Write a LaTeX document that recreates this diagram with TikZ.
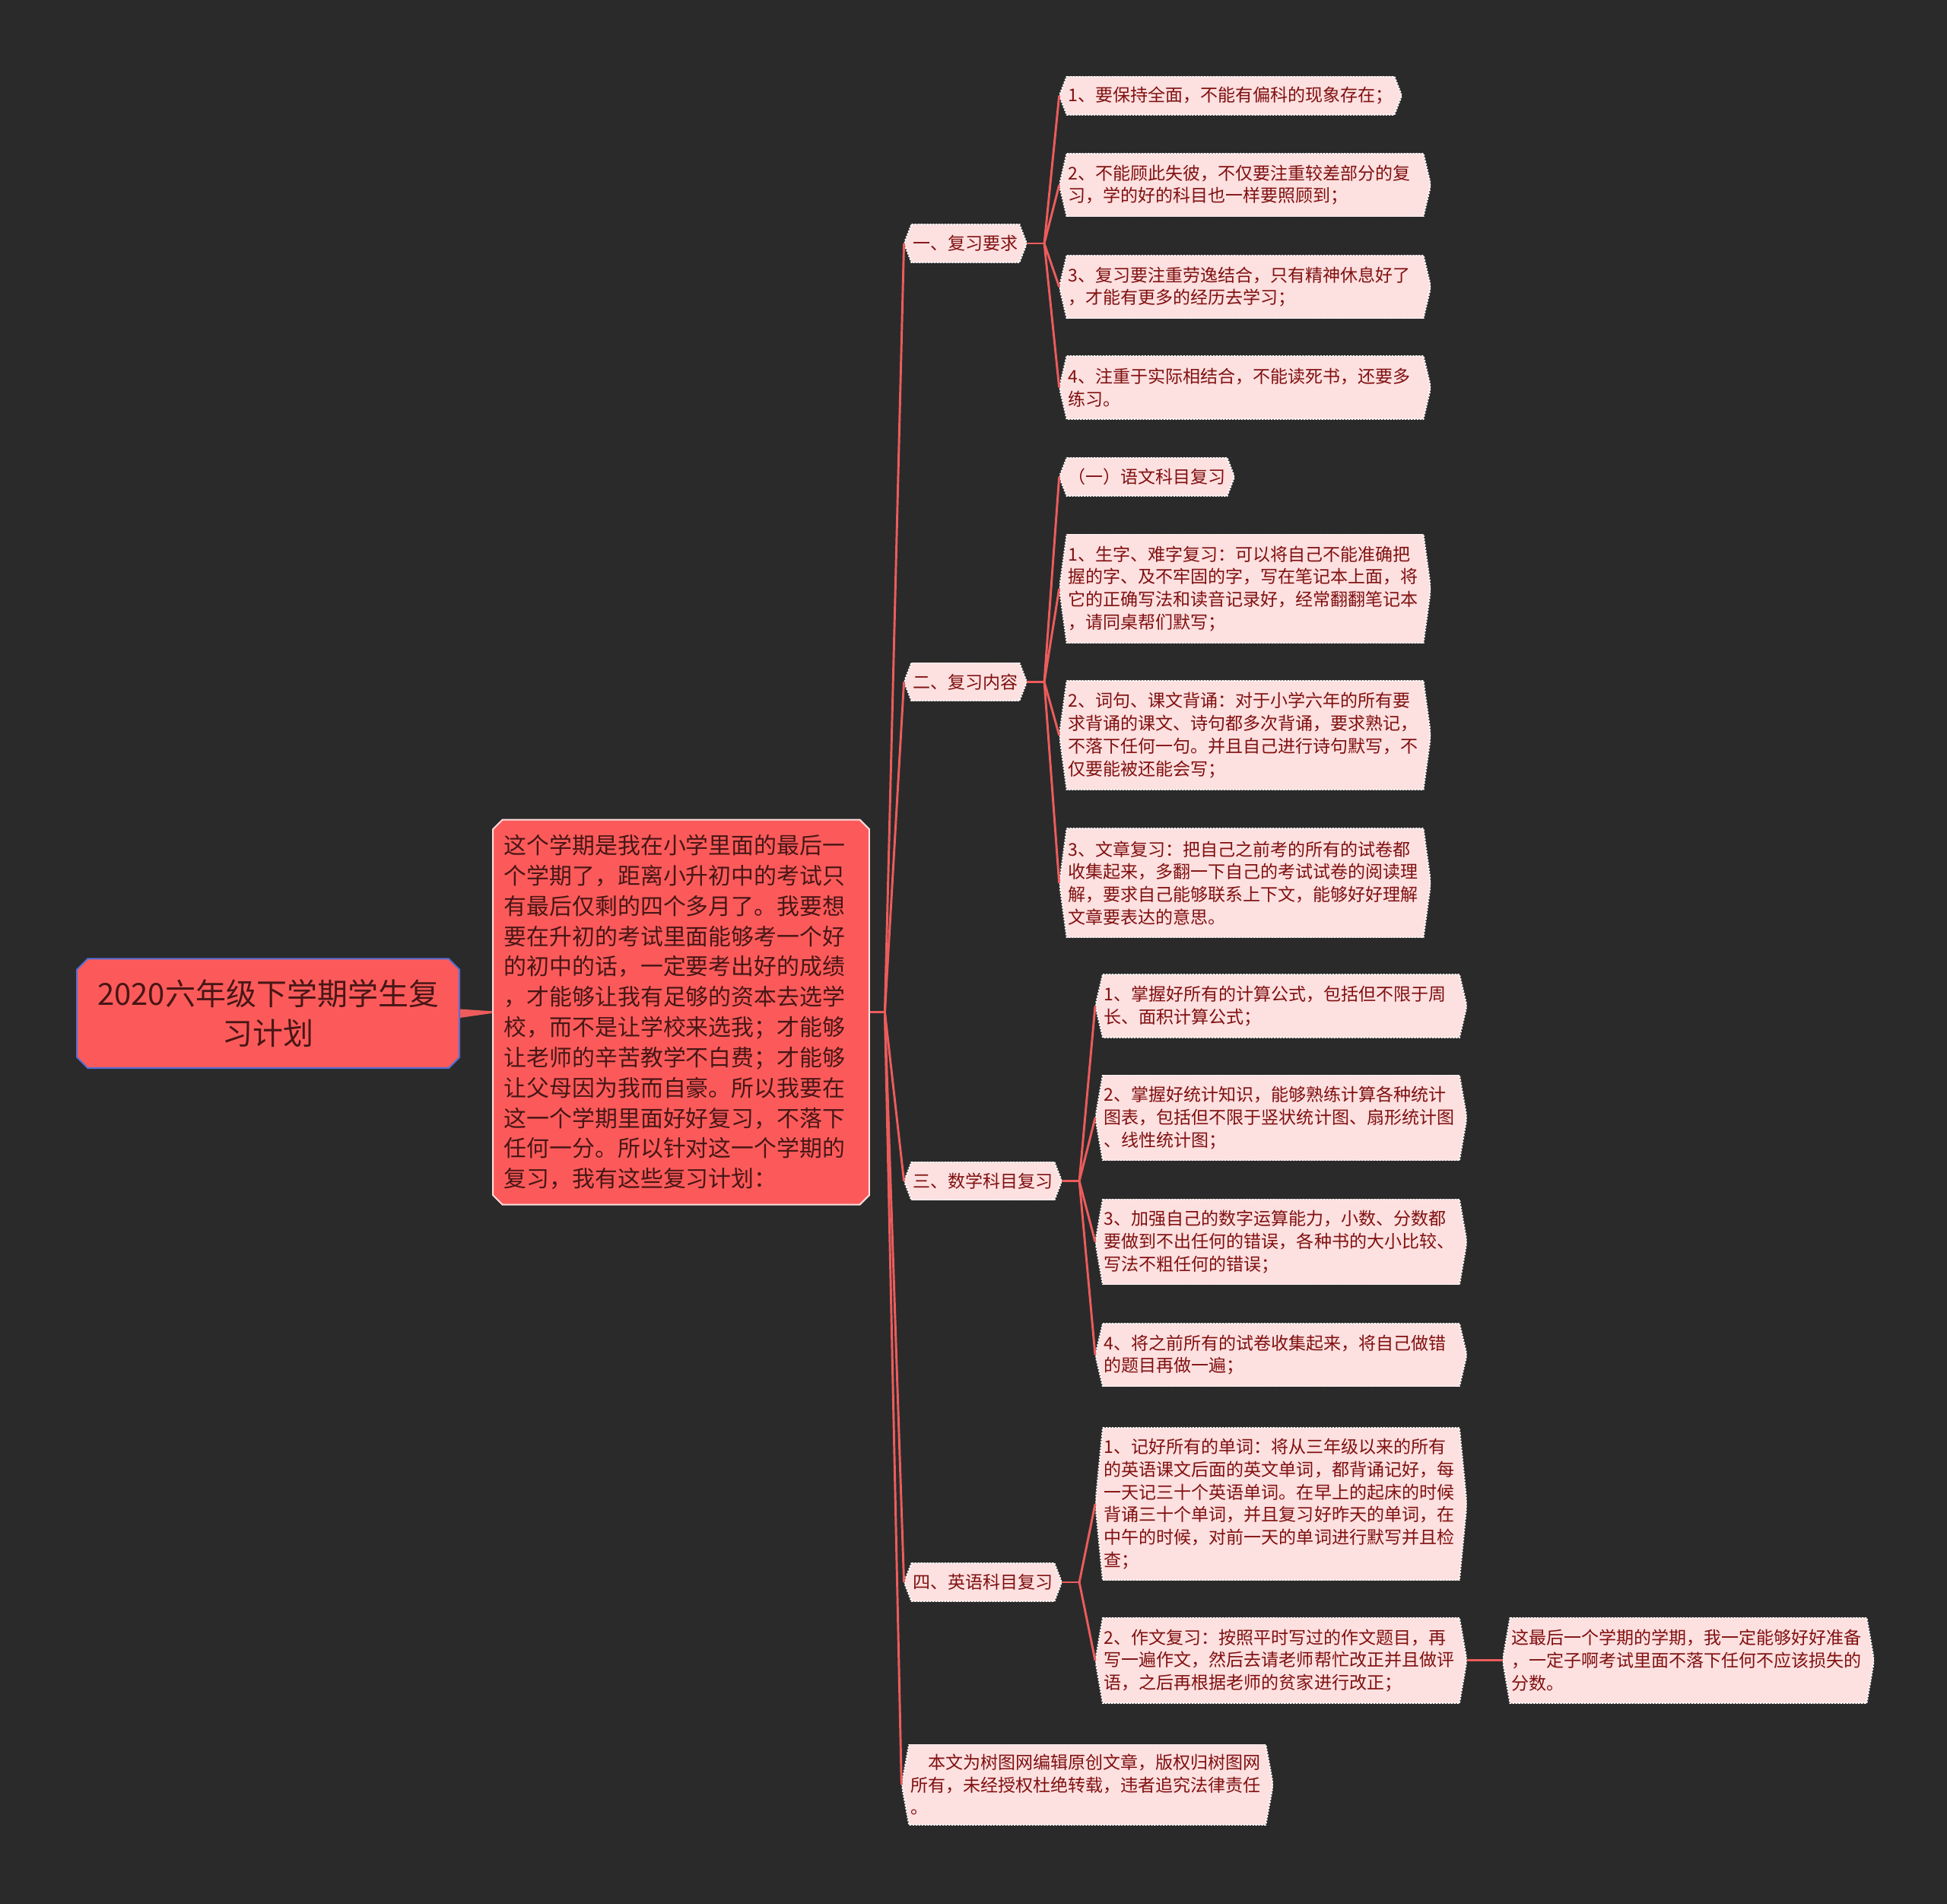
\documentclass[tikz,border=0pt]{standalone}
\usepackage{fontspec}
\setmainfont{Noto Sans CJK SC}
\usetikzlibrary{shapes.misc}
\definecolor{bg}{RGB}{42,42,42}
\definecolor{hot}{RGB}{252,90,90}
\definecolor{wire}{RGB}{236,92,92}
\definecolor{petal}{RGB}{253,224,224}
\definecolor{ink}{RGB}{128,16,16}
\definecolor{dark}{RGB}{72,22,22}
\definecolor{rim}{RGB}{84,110,210}
% pointed box outline, used inside path picture
\newcommand\hexpath{([xshift=6pt]path picture bounding box.north west) -- ([xshift=-6pt]path picture bounding box.north east) -- (path picture bounding box.east) -- ([xshift=-6pt]path picture bounding box.south east) -- ([xshift=6pt]path picture bounding box.south west) -- (path picture bounding box.west) -- cycle}

\begin{document}
\begin{tikzpicture}[x=1pt,y=-1pt,
  leaf/.style={anchor=west,align=left,inner xsep=7pt,inner ysep=3pt,minimum height=31pt,text=ink,
    font=\fontsize{14.1}{18.2}\selectfont,
    path picture={\fill[petal] \hexpath; \draw[white!85!petal,densely dotted,line width=1.4pt] \hexpath;}},
  wide/.style={leaf,text width=285pt},
  link/.style={draw=wire,line width=1.8pt}]
\fill[bg] (0,0) rectangle (1568,1533);

% root and intro
\node[chamfered rectangle,chamfered rectangle xsep=5pt,fill=hot,draw=rim,line width=1.2pt,
  minimum width=308pt,minimum height=88pt,inner sep=2pt,align=center,text=dark,
  font=\fontsize{24.5}{32}\selectfont] (root) at (216,816) {2020六年级下学期学生复\\习计划};
\node[chamfered rectangle,chamfered rectangle xsep=4pt,fill=hot,draw=white!80!hot,line width=1.2pt,
  minimum height=310pt,inner xsep=5pt,inner ysep=2pt,text width=285pt,align=left,text=dark,
  font=\fontsize{18.3}{24.4}\selectfont] (mid) at (548.5,815) {这个学期是我在小学里面的最后一\\个学期了，距离小升初中的考试只\\有最后仅剩的四个多月了。我要想\\要在升初的考试里面能够考一个好\\的初中的话，一定要考出好的成绩\\，才能够让我有足够的资本去选学\\校，而不是让学校来选我；才能够\\让老师的辛苦教学不白费；才能够\\让父母因为我而自豪。所以我要在\\这一个学期里面好好复习，不落下\\任何一分。所以针对这一个学期的\\复习，我有这些复习计划：};

% main branches
\node[leaf] (s1) at (728,196) {一、复习要求};
\node[leaf] (s2) at (728,549) {二、复习内容};
\node[leaf] (s3) at (728,951) {三、数学科目复习};
\node[leaf] (s4) at (728,1274) {四、英语科目复习};
\node[wide,minimum height=65pt] (note) at (726,1437) {\hspace*{1em}本文为树图网编辑原创文章，版权归树图网\\所有，未经授权杜绝转载，违者追究法律责任\\。};

% 一
\node[leaf] (r1) at (853,77) {1、要保持全面，不能有偏科的现象存在；};
\node[wide,minimum height=51pt] (r2) at (853,149) {2、不能顾此失彼，不仅要注重较差部分的复\\习，学的好的科目也一样要照顾到；};
\node[wide,minimum height=51pt] (r3) at (853,231) {3、复习要注重劳逸结合，只有精神休息好了\\，才能有更多的经历去学习；};
\node[wide,minimum height=51pt] (r4) at (853,312) {4、注重于实际相结合，不能读死书，还要多\\练习。};

% 二
\node[leaf] (c0) at (853,384) {（一）语文科目复习};
\node[wide,minimum height=88pt] (c1) at (853,474) {1、生字、难字复习：可以将自己不能准确把\\握的字、及不牢固的字，写在笔记本上面，将\\它的正确写法和读音记录好，经常翻翻笔记本\\，请同桌帮们默写；};
\node[wide,minimum height=88pt] (c2) at (853,592) {2、词句、课文背诵：对于小学六年的所有要\\求背诵的课文、诗句都多次背诵，要求熟记，\\不落下任何一句。并且自己进行诗句默写，不\\仅要能被还能会写；};
\node[wide,minimum height=88pt] (c3) at (853,711) {3、文章复习：把自己之前考的所有的试卷都\\收集起来，多翻一下自己的考试试卷的阅读理\\解，要求自己能够联系上下文，能够好好理解\\文章要表达的意思。};

% 三
\node[wide,minimum height=51pt] (m1) at (882,810) {1、掌握好所有的计算公式，包括但不限于周\\长、面积计算公式；};
\node[wide,minimum height=69pt] (m2) at (882,900) {2、掌握好统计知识，能够熟练计算各种统计\\图表，包括但不限于竖状统计图、扇形统计图\\、线性统计图；};
\node[wide,minimum height=69pt] (m3) at (882,1000) {3、加强自己的数字运算能力，小数、分数都\\要做到不出任何的错误，各种书的大小比较、\\写法不粗任何的错误；};
\node[wide,minimum height=51pt] (m4) at (882,1091) {4、将之前所有的试卷收集起来，将自己做错\\的题目再做一遍；};

% 四
\node[wide,minimum height=123pt] (e1) at (882,1211) {1、记好所有的单词：将从三年级以来的所有\\的英语课文后面的英文单词，都背诵记好，每\\一天记三十个英语单词。在早上的起床的时候\\背诵三十个单词，并且复习好昨天的单词，在\\中午的时候，对前一天的单词进行默写并且检\\查；};
\node[wide,minimum height=69pt] (e2) at (882,1337) {2、作文复习：按照平时写过的作文题目，再\\写一遍作文，然后去请老师帮忙改正并且做评\\语，之后再根据老师的贫家进行改正；};
\node[wide,minimum height=69pt] (e3) at (1210,1337) {这最后一个学期的学期，我一定能够好好准备\\，一定子啊考试里面不落下任何不应该损失的\\分数。};

% connectors
\fill[wire] ([yshift=3.5pt]root.east) -- ([yshift=0.8pt]mid.west) -- ([yshift=-0.8pt]mid.west) -- ([yshift=-3.5pt]root.east) -- cycle;
\draw[link] (mid.east) -- ++(12,0) coordinate (tj);
\foreach \n in {s1,s2,s3,s4,note} \draw[link] (tj) -- (\n.west);
\foreach \p/\kids in {s1/{r1,r2,r3,r4},s2/{c0,c1,c2,c3},s3/{m1,m2,m3,m4},s4/{e1,e2}} {
  \draw[link] (\p.east) -- ++(14,0) coordinate (j);
  \foreach \k in \kids \draw[link] (j) -- (\k.west);
}
\draw[link] (e2.east) -- (e3.west);
\end{tikzpicture}
\end{document}
